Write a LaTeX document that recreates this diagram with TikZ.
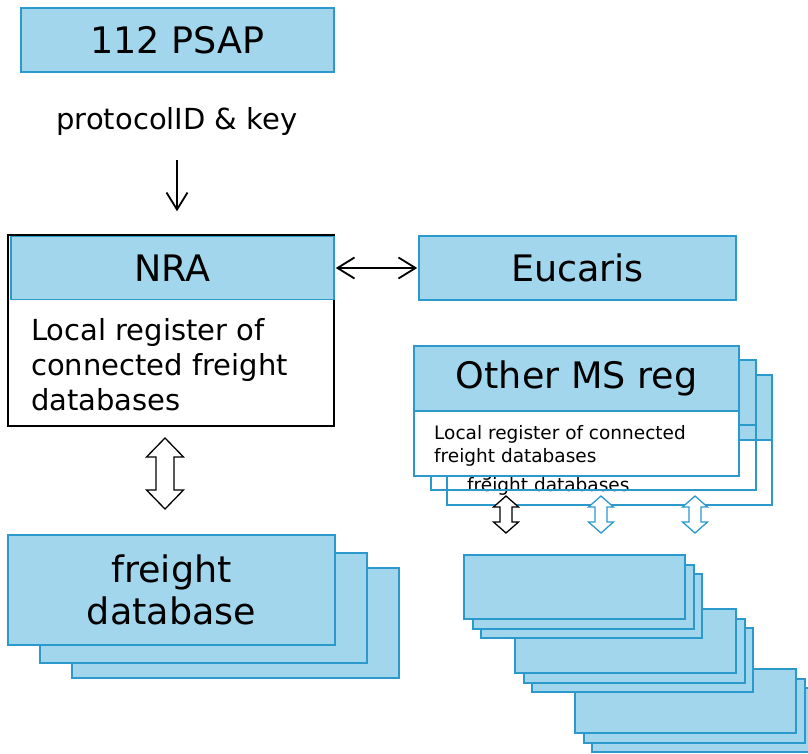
\documentclass[tikz,border=0pt]{standalone}
\usepackage{fontspec}
\setmainfont{DejaVu Sans}
\usetikzlibrary{arrows.meta}

\definecolor{boxfill}{RGB}{162,214,237}
\definecolor{boxline}{RGB}{44,153,204}

% hollow two-headed arrow: style, centre x, top y, bottom y, half head, half shaft, head length
\newcommand{\hollowarrow}[7]{%
  \draw[#1] (#2,#3) -- ++(#5,#7) -- ++(-#5+#6,0) -- (#2+#6,#4-#7) -- ++(#5-#6,0)
    -- (#2,#4) -- ++(-#5,-#7) -- ++(#5-#6,0) -- (#2-#6,#3+#7) -- ++(-#5+#6,0) -- cycle;}

\tikzset{
  blubox/.style={draw=boxline, fill=boxfill, line width=1.6pt, inner sep=0pt},
  bigtxt/.style={font=\fontsize{36.5}{42}\selectfont},
  midtxt/.style={font=\fontsize{29}{35}\selectfont},
  smalltxt/.style={font=\fontsize{18.5}{23}\selectfont},
  barb/.tip={Straight Barb[length=17pt,width=21pt]},
  link/.style={line width=1.8pt},
}

\begin{document}
\begin{tikzpicture}[x=1pt, y=-1pt]
  \useasboundingbox (0,0) rectangle (808,754);

  % top of the chain
  \node[blubox, bigtxt, minimum width=313, minimum height=64] (psap) at (177.5,40) {112 PSAP};
  \node[midtxt, inner sep=0pt] (key) at (177,122) {protocolID \& key};

  % national registry
  \node[draw=black, line width=1.5pt, minimum width=326, minimum height=191] (nra) at (171,330.5) {};
  \node[blubox, bigtxt, minimum width=323, minimum height=63] (nrahead) at (172.5,268) {NRA};
  \node[midtxt, align=left, anchor=base west, inner sep=0pt] (nratxt) at (31,410)
    {Local register of\\connected freight\\databases};

  \node[blubox, bigtxt, minimum width=317, minimum height=64] (eucaris) at (577.5,268) {Eucaris};

  % other member state registries, two cards behind the front one
  \foreach \dx/\dy in {33/29, 17/14}{
    \begin{scope}[shift={(\dx,\dy)}]
      \draw[boxline, line width=1.6pt] (414,411) rectangle (739,476);
      \node[smalltxt, align=left, anchor=base west, inner sep=0pt] (omstxt\dx) at (434,462)
        {Local register of connected\\freight databases};
      \node[blubox, minimum width=325, minimum height=65] (omshead\dx) at (576.5,378.5) {};
    \end{scope}
  }
  \draw[boxline, line width=1.6pt, fill=white] (414,411) rectangle (739,476);
  \node[smalltxt, align=left, anchor=base west, inner sep=0pt] (omstxt) at (434,462)
    {Local register of connected\\freight databases};
  \node[blubox, bigtxt, minimum width=325, minimum height=65] (omshead) at (576.5,378.5) {Other MS reg};

  % freight databases
  \foreach \dx/\dy in {64/33, 32/18}
    \node[blubox, minimum width=327, minimum height=110] at (171.5+\dx,590+\dy) {};
  \node[blubox, bigtxt, align=center, minimum width=327, minimum height=110] (fdb) at (171.5,590)
    {freight\\database};

  % foreign freight databases
  \foreach \gx/\gy in {111/114, 51/54, 0/0}{
    \foreach \dx/\dy in {17/19, 9/10, 0/0}
      \node[blubox, minimum width=221, minimum height=64] (db\gx-\dx) at (574.5+\gx+\dx,587+\gy+\dy) {};
  }

  % links
  \draw[link, -barb, shorten <=24pt, shorten >=23pt] (key.south) -- (key.south |- nra.north);
  \draw[link, barb-barb, shorten <=1pt, shorten >=1pt] (nrahead.east) -- (nrahead.east -| eucaris.west);

  \hollowarrow{draw=black, fill=white, line width=1.3pt}{165}{438}{509}{18.5}{9}{19}
  \hollowarrow{draw=black, fill=white, line width=1.3pt}{506}{496}{533}{12.5}{6}{11}
  \hollowarrow{draw=boxline, fill=white, line width=1.3pt}{601}{496}{533}{12.5}{6}{11}
  \hollowarrow{draw=boxline, fill=white, line width=1.3pt}{695}{496}{533}{12.5}{6}{11}
\end{tikzpicture}
\end{document}
